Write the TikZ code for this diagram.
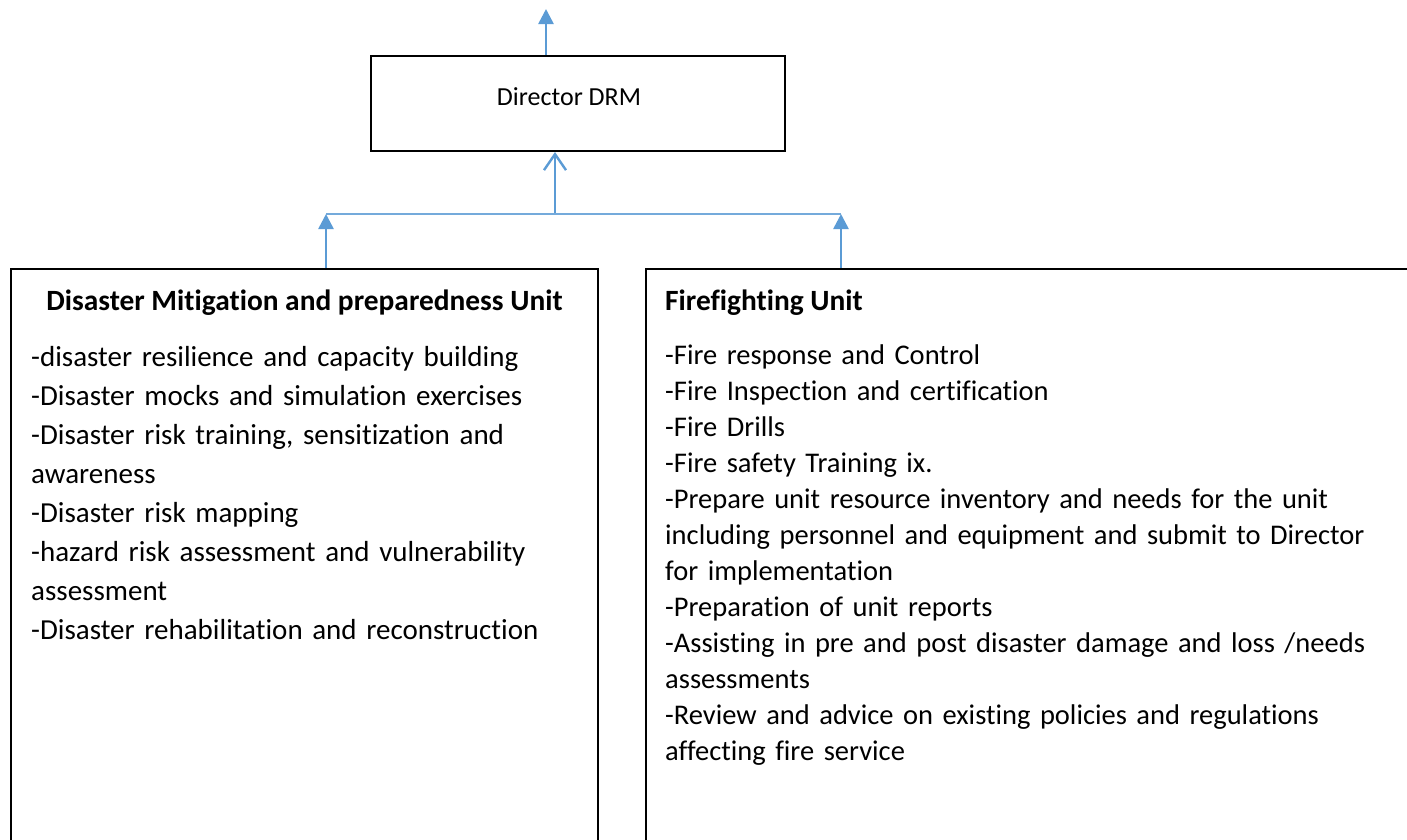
\documentclass[tikz,border=0pt]{standalone}
\usepackage{fontspec}
\setmainfont{Carlito}[Ligatures=CommonOff]
\usetikzlibrary{arrows.meta}
\definecolor{arrowblue}{HTML}{5B9BD5}
\tikzset{
  unitbox/.style={draw=black, line width=2pt, fill=none, inner sep=0pt},
  bluearrow/.style={draw=arrowblue, line width=2.6pt, -{Triangle[length=15pt,width=15pt]}},
  openarrow/.style={draw=arrowblue, line width=2.4pt, -{Straight Barb[length=16pt,width=22pt,line width=2.4pt]}},
  blueline/.style={draw=arrowblue!85, line width=1.6pt},
  bodytext/.style={font=\fontsize{29}{39}\selectfont, inner sep=0pt, text width=760pt, align=left, anchor=base west},
  titletext/.style={font=\fontsize{29.4}{34}\selectfont\bfseries, inner sep=0pt, anchor=base},
}
\begin{document}
\begin{tikzpicture}[x=1pt,y=-1pt]
\useasboundingbox (0,0) rectangle (1407,839);
\clip (0,0) rectangle (1407,839);
% boxes
\node[unitbox, minimum width=414pt, minimum height=95pt] (dir) at (578,103.5) {};
\node[font=\fontsize{26}{31}\selectfont, inner sep=0pt, anchor=base] (dirtext) at (569,105) {Director DRM};
\node[unitbox, minimum width=587pt, minimum height=620pt, anchor=north west] (left) at (10,268) {};
\node[unitbox, minimum width=800pt, minimum height=620pt, anchor=north west] (right) at (645,268) {};
% titles
\node[titletext] (lefttitle) at (304.5,310) {Disaster Mitigation and preparedness Unit};
\node[titletext, anchor=base west] (righttitle) at (665,310) {Firefighting Unit};
% body text
\node[bodytext] (leftbody) at (31,366) {-disaster resilience and capacity building\\
-Disaster mocks and simulation exercises\\
-Disaster risk training, sensitization and\\
awareness\\
-Disaster risk mapping\\
-hazard risk assessment and vulnerability\\
assessment\\
-Disaster rehabilitation and reconstruction};
\node[bodytext, font=\fontsize{28.5}{36}\selectfont] (rightbody) at (665,364) {-Fire response and Control\\
-Fire Inspection and certification\\
-Fire Drills\\
-Fire safety Training ix.\\
-Prepare unit resource inventory and needs for the unit\\
including personnel and equipment and submit to Director\\
for implementation\\
-Preparation of unit reports\\
-Assisting in pre and post disaster damage and loss /needs\\
assessments\\
-Review and advice on existing policies and regulations\\
affecting fire service};
% connectors
\coordinate (topend) at (546,9);
\coordinate (hl) at (326,214);
\coordinate (hr) at (841,214);
\coordinate (hm) at (555,213);
\draw[bluearrow] (dir.north -| topend) -- (topend);
\draw[blueline] (hl) -- (hr);
\draw[openarrow] (hm) -- (hm |- dir.south);
\draw[bluearrow] (left.north -| hl) -- (hl);
\draw[bluearrow] (right.north -| hr) -- (hr);
\end{tikzpicture}
\end{document}
